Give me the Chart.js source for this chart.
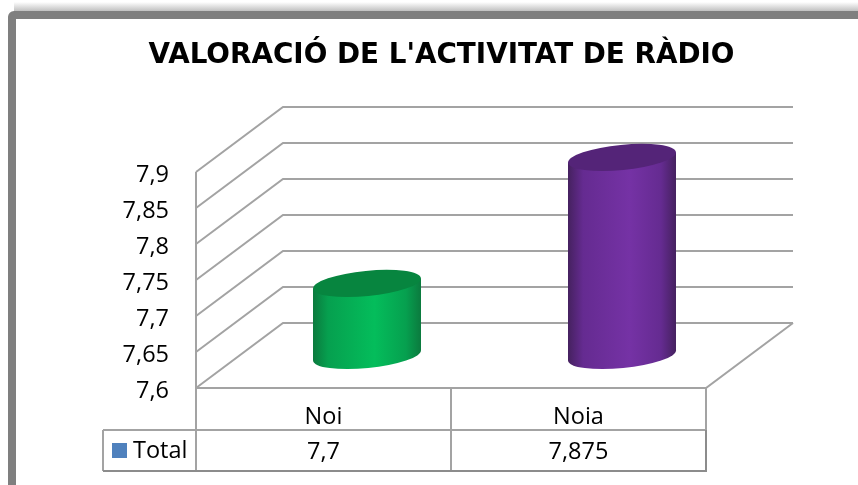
<!DOCTYPE html>
<html>
<head>
<meta charset="utf-8">
<title>Valoració de l'activitat de ràdio</title>
<script src="https://cdn.jsdelivr.net/npm/chart.js@4"></script>
<style>
    html, body { margin: 0; padding: 0; background: #fff; overflow: hidden; }
    canvas { display: block; }
</style>
</head>
<body>
<canvas id="chart" width="858" height="485"></canvas>
<script>
const categories = ['Noi', 'Noia'];
const seriesName = 'Total';
const totals = [7.7, 7.875];
const totalLabels = ['7,7', '7,875'];
const tickLabels = ['7,6', '7,65', '7,7', '7,75', '7,8', '7,85', '7,9'];
const axisMin = 7.6;
const axisMax = 7.9;

const lineGrey = '#a3a3a3';
const textFont = '"Open Sans", sans-serif';
const depthX = 87;
const depthY = 65;
const planeShift = -3;   // labels sit a little lower than their gridlines

const barColors = [
    { edge: '#0b7a3e', mid: '#06a04f', light: '#04bd5b', top: '#07853f' },
    { edge: '#45215f', mid: '#652b91', light: '#7532a5', top: '#542478' }
];

function drawCylinder(ctx, bar, colors) {
    const cx = bar.x + depthX / 2;
    const top = bar.y + planeShift - depthY / 2;
    const bottom = bar.base + planeShift - depthY / 2;
    const halfW = bar.width / 2;
    const tilt = 5;   // height gained from left side to right side

    const grad = ctx.createLinearGradient(cx - halfW, 0, cx + halfW, 0);
    grad.addColorStop(0, colors.edge);
    grad.addColorStop(0.14, colors.mid);
    grad.addColorStop(0.57, colors.light);
    grad.addColorStop(0.86, colors.mid);
    grad.addColorStop(1, colors.edge);

    ctx.fillStyle = grad;
    ctx.beginPath();
    ctx.moveTo(cx - halfW, top + tilt);
    ctx.lineTo(cx + halfW, top - tilt);
    ctx.lineTo(cx + halfW, bottom - tilt);
    ctx.lineTo(cx - halfW, bottom + tilt);
    ctx.closePath();
    ctx.fill();
    ctx.beginPath();
    ctx.ellipse(cx, bottom, halfW + 0.2, 12.6, -0.098, 0, Math.PI * 2);
    ctx.fill();

    ctx.fillStyle = colors.top;
    ctx.beginPath();
    ctx.ellipse(cx, top, halfW + 0.2, 12.6, -0.098, 0, Math.PI * 2);
    ctx.fill();
}

const framePlugin = {
    id: 'frame',
    beforeDraw(chart) {
        const ctx = chart.ctx;
        ctx.save();
        ctx.fillStyle = '#fff';
        ctx.fillRect(0, 0, chart.width, chart.height);

        const shadow = ctx.createLinearGradient(0, 2, 0, 11);
        shadow.addColorStop(0, 'rgba(150,150,150,0)');
        shadow.addColorStop(1, 'rgba(150,150,150,0.6)');
        ctx.fillStyle = shadow;
        ctx.fillRect(14, 2, chart.width, 9);

        ctx.strokeStyle = '#7f7f7f';
        ctx.lineWidth = 8;
        ctx.beginPath();
        ctx.roundRect(12, 15, chart.width + 40, chart.height + 40, 2);
        ctx.stroke();
        ctx.restore();
    }
};

const wallsPlugin = {
    id: 'walls',
    beforeDatasetsDraw(chart) {
        const ctx = chart.ctx;
        const area = chart.chartArea;
        const y = chart.scales.y;
        const floorY = y.getPixelForValue(y.min) + planeShift;
        ctx.save();
        ctx.strokeStyle = lineGrey;
        ctx.lineWidth = 2;
        y.ticks.forEach((tick) => {
            const py = y.getPixelForValue(tick.value) + planeShift;
            ctx.beginPath();
            ctx.moveTo(area.left, py);
            ctx.lineTo(area.left + depthX, py - depthY);
            ctx.lineTo(area.right + depthX, py - depthY);
            ctx.stroke();
        });
        ctx.beginPath();
        ctx.moveTo(area.left, y.getPixelForValue(y.max) + planeShift);
        ctx.lineTo(area.left, floorY);
        ctx.lineTo(area.right, floorY);
        ctx.lineTo(area.right + depthX, floorY - depthY);
        ctx.stroke();
        ctx.restore();
    },
    afterDatasetsDraw(chart) {
        const ctx = chart.ctx;
        ctx.save();
        chart.getDatasetMeta(0).data.forEach((bar, i) => {
            drawCylinder(ctx, bar, barColors[i]);
        });
        ctx.restore();
    }
};

const tablePlugin = {
    id: 'dataTable',
    afterDraw(chart) {
        const ctx = chart.ctx;
        const area = chart.chartArea;
        const x = chart.scales.x;
        const rowTop = area.bottom + planeShift;
        const rowMid = rowTop + 42;
        const rowEnd = rowMid + 41;
        const keyLeft = area.left - 93;
        const divider = (x.getPixelForValue(0) + x.getPixelForValue(1)) / 2;

        ctx.save();
        ctx.strokeStyle = lineGrey;
        ctx.lineWidth = 2;
        ctx.beginPath();
        ctx.moveTo(area.left, rowTop);
        ctx.lineTo(area.left, rowEnd);
        ctx.moveTo(keyLeft, rowMid);
        ctx.lineTo(area.right, rowMid);
        ctx.moveTo(divider, rowTop);
        ctx.lineTo(divider, rowEnd);
        ctx.moveTo(area.right, rowTop);
        ctx.lineTo(area.right, rowMid);
        ctx.moveTo(keyLeft, rowMid);
        ctx.lineTo(keyLeft, rowEnd);
        ctx.stroke();
        ctx.strokeStyle = '#8c8c8c';
        ctx.beginPath();
        ctx.moveTo(keyLeft, rowEnd);
        ctx.lineTo(area.right, rowEnd);
        ctx.lineTo(area.right, rowMid);
        ctx.stroke();

        ctx.fillStyle = '#4f81bd';
        ctx.fillRect(keyLeft + 9, rowMid + 13, 15, 15);

        ctx.fillStyle = '#000';
        ctx.font = '23.5px ' + textFont;
        ctx.textBaseline = 'middle';
        ctx.textAlign = 'left';
        ctx.fillText(seriesName, keyLeft + 30, rowMid + 21);
        ctx.textAlign = 'center';
        totalLabels.forEach((label, i) => {
            ctx.fillText(label, x.getPixelForValue(i), rowMid + 22);
        });
        ctx.restore();
    }
};

new Chart(document.getElementById('chart'), {
    type: 'bar',
    data: {
        labels: categories,
        datasets: [{
            label: seriesName,
            data: totals,
            base: axisMin,
            backgroundColor: 'rgba(0,0,0,0)',
            categoryPercentage: 1,
            barPercentage: 0.4235
        }]
    },
    plugins: [framePlugin, wallsPlugin, tablePlugin],
    options: {
        responsive: false,
        animation: false,
        layout: { padding: { left: 25, right: 0, top: 0, bottom: 0 } },
        plugins: {
            legend: { display: false },
            tooltip: { enabled: false },
            title: {
                display: true,
                text: "VALORACIÓ DE L'ACTIVITAT DE RÀDIO",
                color: '#000',
                font: { family: '"DejaVu Sans", Verdana, sans-serif', size: 27.8, weight: 'bold' },
                padding: { top: 39.5, bottom: 102.1 }
            }
        },
        scales: {
            x: {
                grid: { display: false, drawTicks: false },
                border: { display: false },
                ticks: { color: '#000', font: { family: textFont, size: 23.5 }, padding: 12, maxRotation: 0 },
                afterFit(scale) { scale.height = 94; }
            },
            y: {
                min: axisMin,
                max: axisMax,
                grid: { display: false, drawTicks: false },
                border: { display: false },
                ticks: {
                    stepSize: 0.05,
                    color: '#000',
                    font: { family: textFont, size: 23.5 },
                    padding: 27,
                    callback: (value, index) => tickLabels[index]
                },
                afterFit(scale) { scale.width = 171; }
            },
            // empty axis, keeps the plot clear of the right side like the original
            spare: {
                type: 'linear',
                position: 'right',
                grid: { display: false, drawTicks: false },
                border: { display: false },
                ticks: { display: false },
                afterFit(scale) { scale.width = 152; }
            }
        }
    }
});
</script>
</body>
</html>
